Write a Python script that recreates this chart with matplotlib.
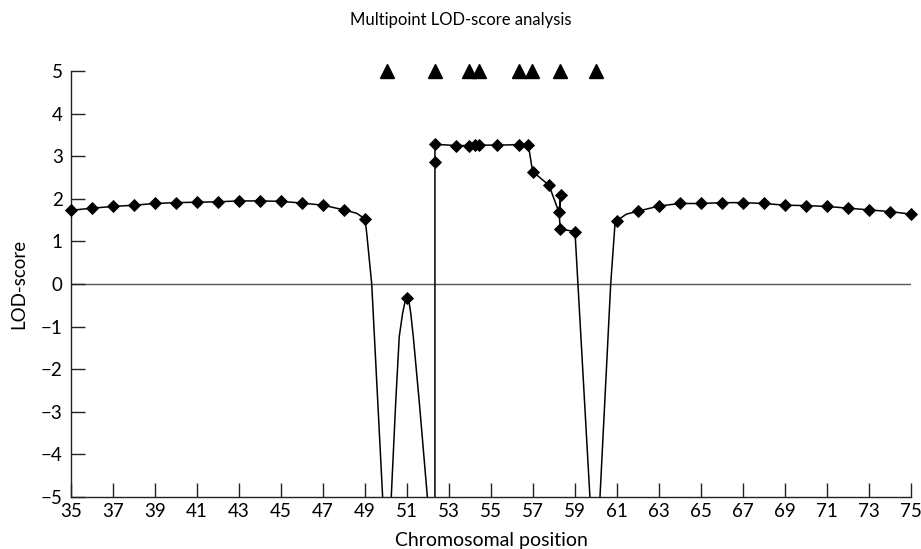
import matplotlib
matplotlib.use("Agg")
import matplotlib.pyplot as plt

plt.rcParams['font.family'] = ['Lato', 'DejaVu Sans']

# Diamond markers: chromosomal position and multipoint LOD score
marker_pos = [35, 36, 37, 38, 39, 40, 41, 42, 43, 44, 45, 46, 47, 48, 49,
              51.0,
              52.33, 52.33, 53.33, 53.97, 54.24, 54.44, 55.27, 56.33, 56.78,
              56.98, 57.76, 58.24, 58.33, 58.30, 59.0,
              61, 62, 63, 64, 65, 66, 67, 68, 69, 70, 71, 72, 73, 74, 75]
marker_lod = [1.73, 1.78, 1.82, 1.85, 1.89, 1.91, 1.92, 1.93, 1.95, 1.95, 1.94, 1.90, 1.85, 1.74, 1.53,
              -0.34,
              2.86, 3.28, 3.25, 3.25, 3.26, 3.26, 3.26, 3.27, 3.26,
              2.64, 2.32, 1.68, 2.09, 1.29, 1.23,
              1.49, 1.71, 1.83, 1.89, 1.89, 1.91, 1.91, 1.89, 1.85, 1.84, 1.82, 1.78, 1.74, 1.70, 1.64]

# Traced LOD curve (including where it leaves the plot)
curve_pos = [35, 36, 37, 38, 39, 40, 41, 42, 43, 44, 45, 46, 47, 48, 48.6, 49,
             49.08, 49.32, 49.84, 50.05, 50.25, 50.46, 50.63, 50.79, 50.9, 51.0, 51.1, 51.18, 51.30,
             51.59, 51.97, 52.15, 52.33,
             52.33, 52.33, 53.33, 53.97, 54.24, 54.44, 55.27, 56.33, 56.78,
             56.98, 57.76, 58.24, 58.33, 58.24, 58.30, 59.0,
             59.14, 59.71, 59.95, 60.19, 60.70, 60.9, 61, 61.45, 62, 63, 64, 65, 66, 67, 68, 69, 70,
             71, 72, 73, 74, 75]
curve_lod = [1.73, 1.78, 1.82, 1.85, 1.89, 1.91, 1.92, 1.93, 1.95, 1.95, 1.94, 1.90, 1.85, 1.74, 1.66, 1.53,
             1.2, 0.0, -5.0, -6.5, -5.0, -2.8, -1.24, -0.69, -0.43, -0.34, -0.43, -0.69, -1.24,
             -2.8, -5.0, -6.5, -6.5,
             2.86, 3.28, 3.25, 3.25, 3.26, 3.26, 3.26, 3.27, 3.26,
             2.64, 2.32, 1.68, 2.09, 1.68, 1.29, 1.23,
             0.0, -5.0, -6.5, -5.0, 0.0, 1.38, 1.49, 1.64, 1.71, 1.83, 1.89, 1.89, 1.91, 1.91, 1.89, 1.85, 1.84,
             1.82, 1.78, 1.74, 1.70, 1.64]

# Marker positions shown as triangles at LOD = 5
triangle_pos = [50.05, 52.35, 53.95, 54.45, 56.35, 56.95, 58.3, 60.0]
triangle_lod = [5] * len(triangle_pos)

x_ticks = list(range(35, 76, 2))
y_ticks = list(range(-5, 6))

fig = plt.figure(figsize=(9.21, 5.49), dpi=100)
ax = fig.add_axes([71 / 921, 1 - 497 / 549, (911 - 71) / 921, (497 - 71) / 549])

ax.axhline(0, color='#555555', lw=1.0, zorder=1)
ax.plot(curve_pos, curve_lod, color='black', lw=1.1, zorder=2, solid_joinstyle='round')
ax.plot(marker_pos, marker_lod, linestyle='none', marker='D', markersize=6.2,
        color='black', mew=0.6, clip_on=False, zorder=3)
ax.plot(triangle_pos, triangle_lod, linestyle='none', marker='^', markersize=10,
        color='black', clip_on=False, zorder=3)

ax.set_xlim(35, 75)
ax.set_ylim(-5, 5)
ax.set_xticks(x_ticks)
ax.set_yticks(y_ticks)
ax.tick_params(direction='in', length=10, width=1.0, labelsize=13.5, color='#222222')
ax.tick_params(axis='x', pad=4)
ax.tick_params(axis='y', pad=6)

for s in ['top', 'right']:
    ax.spines[s].set_visible(False)
for s in ['left', 'bottom']:
    ax.spines[s].set_linewidth(1.0)
    ax.spines[s].set_color('#222222')

ax.set_xlabel('Chromosomal position', fontsize=14, labelpad=9)
ax.set_ylabel('LOD-score', fontsize=13.5, labelpad=10)
fig.text(0.5, 1 - 20 / 549, 'Multipoint LOD-score analysis', ha='center', va='center', fontsize=12)

fig.savefig('out.png', dpi=100)
